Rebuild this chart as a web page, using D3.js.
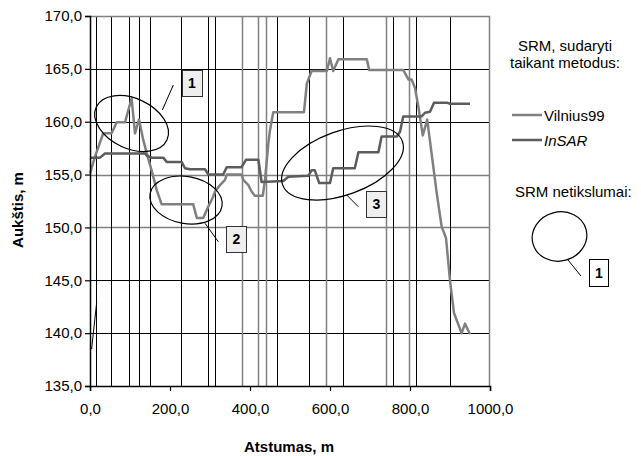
<!DOCTYPE html>
<html>
<head>
<meta charset="utf-8">
<script src="https://cdn.jsdelivr.net/npm/d3@7"></script>
<style>
  body { margin: 0; background: #fff; }
  svg { display: block; font-family: "Liberation Sans", Arial, sans-serif; }
</style>
</head>
<body>
<div id="chart"></div>
<script>
// Vilnius99 profile (distance m, height m)
var vilX = [0, 12.5, 33, 54, 67, 87.5, 104, 112.5, 122.5, 133, 142, 154, 167, 179, 258, 267, 283, 296, 308, 312.5, 325, 337.5, 342, 379, 383, 396, 404, 412, 432, 437.5, 446, 450, 458, 535, 542, 554, 592, 600, 608, 621, 692, 698, 783, 796, 804, 812.5, 821, 832, 843, 854, 862.5, 867, 879, 890, 900, 910, 929, 937.5, 950];
var vilY = [155.1, 156.7, 158.9, 158.9, 159.95, 159.95, 162.2, 158.9, 160.2, 158.3, 157.0, 155.4, 153.5, 152.2, 152.2, 150.9, 150.9, 152.0, 152.9, 153.4, 154.0, 154.5, 155.0, 155.0, 154.5, 154.0, 153.4, 153.0, 153.0, 154.5, 158.0, 159.2, 160.9, 160.9, 163.6, 164.8, 164.8, 166.0, 164.8, 165.9, 165.9, 164.9, 164.9, 164.0, 164.0, 163.2, 161.4, 158.7, 160.2, 157.0, 154.5, 153.2, 150.1, 149.0, 145.0, 141.9, 140.0, 140.9, 139.9];

// InSAR profile
var insX = [0, 25, 37.5, 137.5, 141.7, 154, 183, 191.7, 229, 237.5, 250, 287.5, 296, 333, 342, 379, 390, 421, 429, 483, 496, 546, 554, 562, 573, 600, 608, 662, 671, 721, 729, 767, 775, 783, 829, 837.5, 850, 860, 892, 900, 950];
var insY = [156.6, 156.6, 157.0, 157.0, 156.8, 156.6, 156.6, 156.2, 156.2, 155.6, 155.5, 155.5, 155.0, 155.0, 155.7, 155.7, 156.4, 156.4, 154.3, 154.4, 154.8, 154.9, 155.4, 155.4, 154.2, 154.2, 155.6, 155.6, 157.1, 157.1, 158.6, 158.6, 159.05, 160.5, 160.5, 160.85, 160.95, 161.8, 161.8, 161.7, 161.7];

// short stray segment near the origin
var strayX = [4, 16.7];
var strayY = [138.5, 142.9];

// vertical grid lines (distance m)
var darkGridX = [14, 53, 97, 122, 151, 227, 294, 313, 467, 547, 632, 757, 814, 901];
var lightGridX = [380, 421, 439, 591, 741, 798];

// horizontal grid lines
var darkGridY = [140, 145, 160, 165];
var lightGridY = [150, 155];

var xTicks = [0, 200, 400, 600, 800, 1000];
var yTicks = [135, 140, 145, 150, 155, 160, 165, 170];

// annotation ellipses: centre (m, m), leader line ends and label box centre
var notes = [
  { label: "1", cx: 104, cy: 159.83, rx: 39, ry: 25, rot: 25, lx1: 180.75, ly1: 161.1, lx2: 208.25, ly2: 163.47, bx: 255, by: 163.66 },
  { label: "2", cx: 240, cy: 152.59, rx: 36.5, ry: 23.5, rot: 10, lx1: 287.5, ly1: 150.39, lx2: 320.75, ly2: 148.65, bx: 365.75, by: 148.92 },
  { label: "3", cx: 631.25, cy: 156.09, rx: 63.7, ry: 31.8, rot: -20, lx1: 641.75, ly1: 153.07, lx2: 670.75, ly2: 151.96, bx: 715.75, by: 152.17 }
];

var svgWidth = 641;
var svgHeight = 456;
var margin = { top: 16, right: 151, bottom: 70, left: 90 };
var width = svgWidth - margin.left - margin.right;
var height = svgHeight - margin.top - margin.bottom;

var svg = d3.select("#chart").append("svg")
  .attr("width", svgWidth)
  .attr("height", svgHeight);

var chartGroup = svg.append("g")
  .attr("transform", `translate(${margin.left}, ${margin.top})`);

var xScale = d3.scaleLinear().domain([0, 1000]).range([0, width]);
var yScale = d3.scaleLinear().domain([135, 170]).range([height, 0]);

var fmt = function (d) { return d3.format(".1f")(d).replace(".", ","); };
var crisp = function (v) { return Math.round(v) + 0.5; };

// horizontal grid
chartGroup.selectAll("line.hgrid-dark").data(darkGridY).enter()
  .append("line")
  .attr("x1", 0).attr("x2", width)
  .attr("y1", d => crisp(yScale(d))).attr("y2", d => crisp(yScale(d)))
  .attr("stroke", "#000").attr("stroke-width", 1);

chartGroup.selectAll("line.hgrid-light").data(lightGridY).enter()
  .append("line")
  .attr("x1", 0).attr("x2", width)
  .attr("y1", d => crisp(yScale(d))).attr("y2", d => crisp(yScale(d)))
  .attr("stroke", "#808080").attr("stroke-width", 1.5);

// vertical grid
chartGroup.selectAll("line.vgrid-dark").data(darkGridX).enter()
  .append("line")
  .attr("x1", d => crisp(xScale(d))).attr("x2", d => crisp(xScale(d)))
  .attr("y1", 0).attr("y2", height)
  .attr("stroke", "#000").attr("stroke-width", 1);

chartGroup.selectAll("line.vgrid-light").data(lightGridX).enter()
  .append("line")
  .attr("x1", d => crisp(xScale(d))).attr("x2", d => crisp(xScale(d)))
  .attr("y1", 0).attr("y2", height)
  .attr("stroke", "#808080").attr("stroke-width", 1.5);

// plot frame (top + right)
chartGroup.append("path")
  .attr("d", `M0,0.5H${width - 0.5}V${height}`)
  .attr("fill", "none")
  .attr("stroke", "#808080")
  .attr("stroke-width", 1.5);

// series
var line = d3.line().x(d => xScale(d[0])).y(d => yScale(d[1]));

chartGroup.append("path")
  .datum(d3.zip(vilX, vilY))
  .attr("d", line)
  .attr("fill", "none")
  .attr("stroke", "#808080")
  .attr("stroke-width", 2.5)
  .attr("stroke-linejoin", "round");

chartGroup.append("path")
  .datum(d3.zip(insX, insY))
  .attr("d", line)
  .attr("fill", "none")
  .attr("stroke", "#5c5c5c")
  .attr("stroke-width", 2.5)
  .attr("stroke-linejoin", "round");

chartGroup.append("path")
  .datum(d3.zip(strayX, strayY))
  .attr("d", line)
  .attr("fill", "none")
  .attr("stroke", "#000")
  .attr("stroke-width", 1);

// axes
var xAxis = d3.axisBottom(xScale).tickValues(xTicks).tickFormat(fmt).tickSize(5).tickPadding(12);
var yAxis = d3.axisLeft(yScale).tickValues(yTicks).tickFormat(fmt).tickSize(5).tickPadding(3);

var gx = chartGroup.append("g")
  .attr("transform", `translate(0, ${height})`)
  .call(xAxis);
var gy = chartGroup.append("g").call(yAxis);

[gx, gy].forEach(function (g) {
  g.select(".domain").attr("stroke", "#000").attr("stroke-width", 1.5);
  g.selectAll(".tick line").attr("stroke", "#000").attr("stroke-width", 1.2);
  g.selectAll(".tick text")
    .attr("fill", "#000")
    .style("font-family", "'Liberation Sans', Arial, sans-serif")
    .style("font-size", "15px");
});

// annotations
var ann = chartGroup.selectAll("g.note").data(notes).enter().append("g");

ann.append("ellipse")
  .attr("cx", 0).attr("cy", 0)
  .attr("rx", d => d.rx).attr("ry", d => d.ry)
  .attr("transform", d => `translate(${xScale(d.cx)}, ${yScale(d.cy)}) rotate(${d.rot})`)
  .attr("fill", "none")
  .attr("stroke", "#000")
  .attr("stroke-width", 1.2);

ann.append("line")
  .attr("x1", d => xScale(d.lx1)).attr("y1", d => yScale(d.ly1))
  .attr("x2", d => xScale(d.lx2)).attr("y2", d => yScale(d.ly2))
  .attr("stroke", "#000").attr("stroke-width", 1);

ann.append("rect")
  .attr("x", d => Math.round(xScale(d.bx) - 10) + 0.5)
  .attr("y", d => Math.round(yScale(d.by) - 13) + 0.5)
  .attr("width", 20).attr("height", 26)
  .attr("fill", "#eeeeee")
  .attr("stroke", "#333")
  .attr("stroke-width", 1);

ann.append("text")
  .attr("x", d => xScale(d.bx))
  .attr("y", d => yScale(d.by) + 5)
  .attr("text-anchor", "middle")
  .style("font-size", "14px")
  .style("font-weight", "bold")
  .text(d => d.label);

// axis titles
svg.append("text")
  .attr("transform", "translate(23, 210) rotate(-90)")
  .attr("text-anchor", "middle")
  .style("font-size", "15px")
  .style("font-weight", "bold")
  .text("Aukštis, m");

svg.append("text")
  .attr("x", 289).attr("y", 452)
  .attr("text-anchor", "middle")
  .style("font-size", "15px")
  .style("font-weight", "bold")
  .text("Atstumas, m");

// legend
var legend = svg.append("g");

legend.append("text")
  .attr("x", 565).attr("y", 51)
  .attr("text-anchor", "middle")
  .style("font-size", "15px")
  .text("SRM, sudaryti");

legend.append("text")
  .attr("x", 565).attr("y", 68)
  .attr("text-anchor", "middle")
  .style("font-size", "15px")
  .text("taikant metodus:");

var legendItems = [
  { name: "Vilnius99", color: "#808080", italic: false, y: 115 },
  { name: "InSAR", color: "#5c5c5c", italic: true, y: 140 }
];

legendItems.forEach(function (it) {
  legend.append("line")
    .attr("x1", 512).attr("x2", 542)
    .attr("y1", it.y).attr("y2", it.y)
    .attr("stroke", it.color).attr("stroke-width", 2.5);
  legend.append("text")
    .attr("x", 544).attr("y", it.y + 5.5)
    .style("font-size", "15px")
    .style("font-style", it.italic ? "italic" : "normal")
    .text(it.name);
});

legend.append("text")
  .attr("x", 515).attr("y", 197)
  .style("font-size", "15px")
  .text("SRM netikslumai:");

legend.append("ellipse")
  .attr("cx", 0).attr("cy", 0)
  .attr("rx", 27.5).attr("ry", 24.5)
  .attr("transform", "translate(559.5, 236.5) rotate(-15)")
  .attr("fill", "none")
  .attr("stroke", "#000")
  .attr("stroke-width", 1.2);

legend.append("line")
  .attr("x1", 568).attr("y1", 260)
  .attr("x2", 581).attr("y2", 276)
  .attr("stroke", "#000").attr("stroke-width", 1);

legend.append("rect")
  .attr("x", 589.5).attr("y", 259.5)
  .attr("width", 19).attr("height", 27)
  .attr("fill", "#fff")
  .attr("stroke", "#000")
  .attr("stroke-width", 1);

legend.append("text")
  .attr("x", 599).attr("y", 278)
  .attr("text-anchor", "middle")
  .style("font-size", "14px")
  .style("font-weight", "bold")
  .text("1");
</script>
</body>
</html>
